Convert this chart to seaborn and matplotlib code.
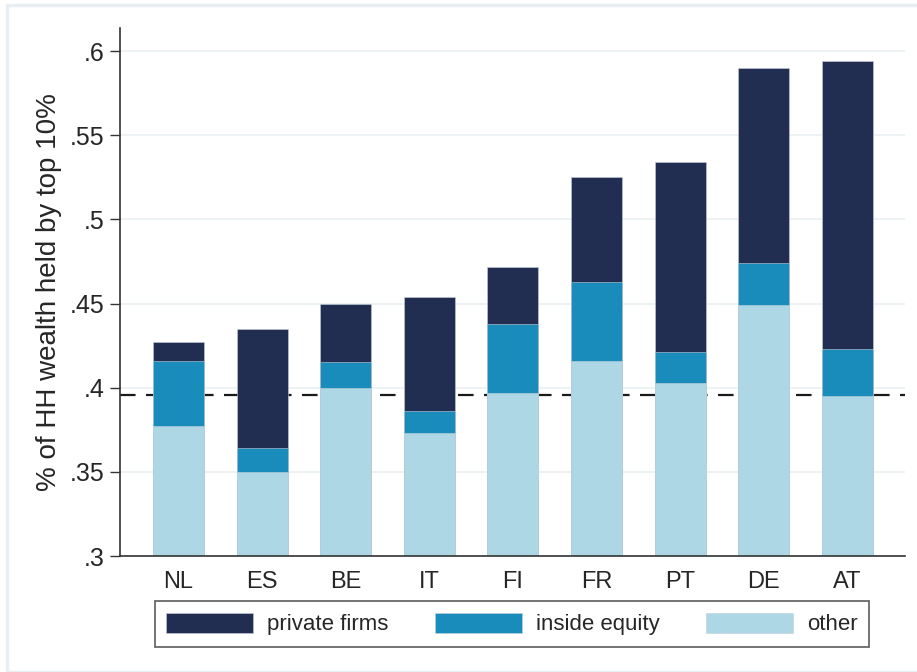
import pandas as pd
import matplotlib.pyplot as plt
import seaborn as sns
from matplotlib.patches import Patch, Rectangle

# Top 10% wealth share, by asset type (stacked, cumulative from bottom)
countries = ['NL', 'ES', 'BE', 'IT', 'FI', 'FR', 'PT', 'DE', 'AT']
other = [0.377, 0.350, 0.400, 0.373, 0.397, 0.416, 0.403, 0.449, 0.395]
inside_equity_top = [0.416, 0.364, 0.415, 0.386, 0.438, 0.463, 0.421, 0.474, 0.423]
private_firms_top = [0.427, 0.435, 0.450, 0.454, 0.472, 0.525, 0.534, 0.590, 0.594]
reference_line = 0.3956
yticks = [0.3, 0.35, 0.4, 0.45, 0.5, 0.55, 0.6]
ytick_labels = ['.3', '.35', '.4', '.45', '.5', '.55', '.6']

c_private = '#222d52'
c_inside = '#1a8cbb'
c_other = '#add7e5'

df = pd.DataFrame({'country': countries, 'other': other,
                   'inside': inside_equity_top, 'private': private_firms_top})

sns.set_style('white')
plt.rcParams['font.family'] = ['Liberation Sans', 'DejaVu Sans']

fig = plt.figure(figsize=(9.17, 6.72), dpi=100)
ax = fig.add_axes([120 / 917, 116 / 672, 785 / 917, 528 / 672])

# light outer frame like the Stata graph region
fig.patches.append(Rectangle((7 / 917, 0), 1.0, 667 / 672, transform=fig.transFigure,
                             fill=False, edgecolor='#e8eff3', linewidth=2.5))

ax.axhline(reference_line, color='#1a1a1a', linestyle=(0, (7, 4.7)), linewidth=1.6, zorder=1)
for col, color in [('private', c_private), ('inside', c_inside), ('other', c_other)]:
    sns.barplot(data=df, x='country', y=col, color=color, saturation=1, width=0.61,
                edgecolor='#c3d0dc', linewidth=0.4, ax=ax, zorder=2)

ax.set_ylim(0.3, 0.6137)
ax.set_xlim(-0.70, 8.69)
ax.set_yticks(yticks)
ax.set_yticklabels(ytick_labels)
ax.grid(axis='y', color='#eaf0f4', linewidth=1.2, zorder=0)
ax.set_axisbelow(True)
ax.tick_params(axis='y', which='both', left=True, length=7, width=1, color='#333333',
               labelsize=18, pad=4)
ax.tick_params(axis='x', bottom=False, labelsize=17, pad=7)
for side in ['top', 'right']:
    ax.spines[side].set_visible(False)
for side in ['left', 'bottom']:
    ax.spines[side].set_color('#333333')
    ax.spines[side].set_linewidth(1.2)
ax.set_xlabel('')
ax.set_ylabel('% of HH wealth held by top 10%', fontsize=20, labelpad=6)

handles = [Patch(facecolor=c_private, edgecolor='#c3d0dc', linewidth=0.4, label='private firms'),
           Patch(facecolor=c_inside, edgecolor='#c3d0dc', linewidth=0.4, label='inside equity'),
           Patch(facecolor=c_other, edgecolor='#c3d0dc', linewidth=0.4, label='other')]
leg = fig.legend(handles=handles, ncol=3, loc='center', bbox_to_anchor=(512 / 917, 1 - 624 / 672),
                 fontsize=16, frameon=True, fancybox=False, edgecolor='#333333',
                 handlelength=3.9, handleheight=1.05, columnspacing=2.1, handletextpad=0.63,
                 borderpad=0.5)
leg.get_frame().set_linewidth(1.2)

plt.savefig('out.png', dpi=100)
